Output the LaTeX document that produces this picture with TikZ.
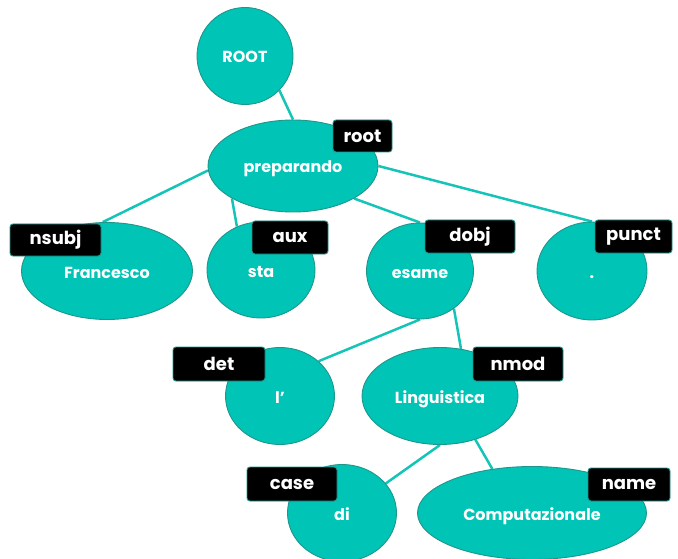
\documentclass[tikz,border=0pt]{standalone}
\usepackage{fontspec}
\setmainfont{Poppins}
\usetikzlibrary{shapes.geometric,backgrounds}
\definecolor{tealfill}{RGB}{0,196,181}
\definecolor{tealedge}{RGB}{30,150,140}
\definecolor{tealline}{RGB}{20,196,182}
\tikzset{
  word/.style={ellipse,fill=tealfill,draw=tealedge,line width=0.9pt,inner sep=0pt,
    text height=14pt,text depth=0pt,
    text=white,font=\fontsize{16}{18}\selectfont\bfseries},
  deplabel/.style={rectangle,rounded corners=3pt,fill=black,draw=tealedge,line width=0.9pt,
    inner sep=0pt,text=white,font=\fontsize{18}{20}\selectfont\bfseries},
  link/.style={tealline,line width=2.5pt}
}
\begin{document}
\begin{tikzpicture}[x=1pt,y=-1pt]
\useasboundingbox (0,0) rectangle (678,559);
% words
\node[word,minimum width=96pt,minimum height=97pt] (root) at (245,56) {ROOT};
\node[word,minimum width=170pt,minimum height=92pt] (prep) at (293,166) {preparando};
\node[word,minimum width=171pt,minimum height=97pt] (fran) at (107,271) {Francesco};
\node[word,minimum width=108pt,minimum height=96pt] (sta) at (261,270) {sta};
\node[word,minimum width=107pt,minimum height=96pt] (esame) at (420,271) {esame};
\node[word,minimum width=110pt,minimum height=98pt] (dot) at (592,271) {.};
\node[word,minimum width=109pt,minimum height=97pt] (lart) at (280,396) {l’};
\node[word,minimum width=156pt,minimum height=97pt] (ling) at (440,396) {Linguistica};
\node[word,minimum width=109pt,minimum height=97pt] (di) at (342,513) {di};
\node[word,minimum width=229pt,minimum height=93pt] (comp) at (532,513) {Computazionale};
% labels
\node[deplabel,minimum width=59pt,minimum height=32pt] (lroot) at (362.5,136) {root};
\node[deplabel,minimum width=91pt,minimum height=32pt] (lnsubj) at (55.5,240) {nsubj};
\node[deplabel,minimum width=76pt,minimum height=33pt] (laux) at (290,237.5) {aux};
\node[deplabel,minimum width=90pt,minimum height=33pt] (ldobj) at (470,236.5) {dobj};
\node[deplabel,minimum width=77pt,minimum height=33pt] (lpunct) at (633.5,236.5) {punct};
\node[deplabel,minimum width=92pt,minimum height=34pt] (ldet) at (219,364) {det};
\node[deplabel,minimum width=90pt,minimum height=34pt] (lnmod) at (518,364) {nmod};
\node[deplabel,minimum width=90pt,minimum height=34pt] (lcase) at (292,484) {case};
\node[deplabel,minimum width=82pt,minimum height=33pt] (lname) at (629,484.5) {name};
% connectors
\begin{scope}[on background layer]
\draw[link] (root.-45) -- (prep.90);
\draw[link] (prep.183) -- (fran.95);
\draw[link] (prep.208) -- (sta.119);
\draw[link] (prep.-28) -- (esame.90);
\draw[link] (prep.0) -- (dot.90);
\draw[link] (esame.-90) -- (lart.42);
\draw[link] (esame.-48) -- (ling.66);
\draw[link] (ling.-90) -- (di.34);
\draw[link] (ling.-51) -- (comp.132);
\end{scope}
\end{tikzpicture}
\end{document}
